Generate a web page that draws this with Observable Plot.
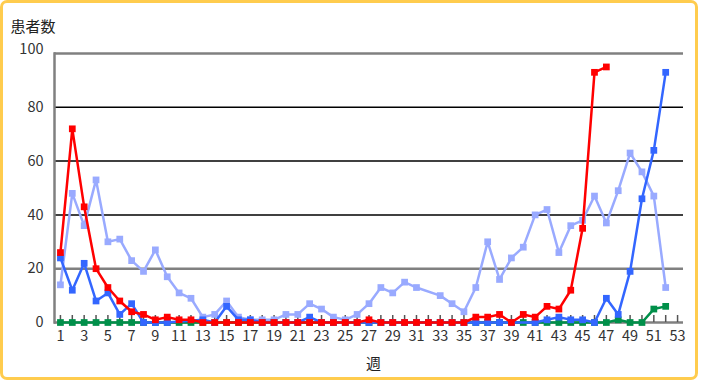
<!DOCTYPE html>
<html><head><meta charset="utf-8">
<script src="https://cdn.jsdelivr.net/npm/d3@7"></script>
<script src="https://cdn.jsdelivr.net/npm/@observablehq/plot@0.6"></script>
<style>
html,body{margin:0;padding:0;background:#fff;}
#wrap{position:relative;width:701px;height:381px;overflow:hidden;background:#fff;}
#wrap svg{display:block;position:absolute;left:0;top:0;}
#border{position:absolute;left:0;top:0;width:698px;height:380px;box-sizing:border-box;border:3px solid #FFCC4E;border-radius:7px;pointer-events:none;}
</style></head><body>
<div id="wrap"><div id="border"></div></div>
<script>
const weeks = [1,2,3,4,5,6,7,8,9,10,11,12,13,14,15,16,17,18,19,20,21,22,23,24,25,26,27,28,29,30,31,32,33,34,35,36,37,38,39,40,41,42,43,44,45,46,47,48,49,50,51,52,53];
const weekLabels = [1,3,5,7,9,11,13,15,17,19,21,23,25,27,29,31,33,35,37,39,41,43,45,47,49,51,53];
const yLabels = [0,20,40,60,80];
const yTopLabel = [100];
const grayGrid = [20,100];
const blackGrid = [40,60,80];

// series values by week (index 0 = week 1); null = no point
const redSeries = [26,72,43,20,13,8,4,3,1,2,1,1,0,0,0,0,0,0,0,0,0,0,0,0,0,0,1,0,0,0,0,0,0,0,0,2,2,3,0,3,2,6,5,12,35,93,95];
const blueSeries = [24,12,22,8,11,3,7,0,0,0,null,null,1,0,6,1,1,0,0,0,0,2,0,0,0,0,0,0,0,0,0,0,0,0,0,0,0,0,0,null,0,1,2,1,1,0,9,3,19,46,64,93];
const lightSeries = [14,48,36,53,30,31,23,19,27,17,11,9,2,3,8,2,1,1,1,3,3,7,5,2,1,3,7,13,11,15,13,null,10,7,4,13,30,16,24,28,40,42,26,36,38,47,37,49,63,56,47,13];
const greenSeries = [0,0,0,0,0,0,0,0,0,0,0,0,0,0,0,0,0,0,0,0,0,0,0,0,0,0,0,0,0,0,0,0,0,0,0,0,0,0,0,0,0,0,0,0,0,0,0,1,0,0,5,6];

const toRows = (arr) => arr.map((v, i) => ({week: weeks[i], v})).filter(d => d.v != null);

const series = [
  {rows: toRows(lightSeries), color: "#99aaff"},
  {rows: toRows(greenSeries), color: "#00904a"},
  {rows: toRows(blueSeries), color: "#3366ff"},
  {rows: toRows(redSeries), color: "#ff0000"}
];

const font = "'Noto Sans CJK JP', sans-serif";

const seriesMarks = series.flatMap(s => [
  Plot.line(s.rows, {x: "week", y: "v", stroke: s.color, strokeWidth: 2.5}),
  Plot.dot(s.rows, {x: "week", y: "v", symbol: "square", r: 3.8, fill: s.color, stroke: "none"})
]);

const chart = Plot.plot({
  width: 701, height: 381,
  marginLeft: 54, marginRight: 18, marginTop: 53, marginBottom: 59,
  style: {fontFamily: font, fontSize: "14px", color: "#333", background: "transparent"},
  x: {type: "point", domain: weeks, padding: 0.5},
  y: {domain: [0, 100]},
  marks: [
    Plot.ruleY(blackGrid, {stroke: "#000", strokeWidth: 1.5}),
    Plot.ruleY(grayGrid, {stroke: "#808080", strokeWidth: 2.5}),
    Plot.ruleY([0], {stroke: "#808080", strokeWidth: 2.5}),
    Plot.frame({anchor: "left", stroke: "#808080", strokeWidth: 2.5}),
    Plot.tickX(weeks, {x: d => d, insetTop: 262, stroke: "#555", strokeWidth: 1.5}),
    Plot.axisX(weekLabels, {tickSize: 0, tickPadding: 8, fontSize: 14.5, label: null, fill: "#333"}),
    Plot.axisY(yLabels, {tickSize: 0, tickPadding: 11, fontSize: 14.5, label: null, fill: "#333"}),
    Plot.axisY(yTopLabel, {tickSize: 0, tickPadding: 11, dy: -4, fontSize: 14.5, label: null, fill: "#333"}),
    ...seriesMarks,
    Plot.text(["週"], {text: d => d, frameAnchor: "bottom", lineAnchor: "middle", dx: 4.5, dy: 41.5, fontSize: 15, fill: "#222"}),
    Plot.text(["患者数"], {text: d => d, frameAnchor: "top-left", lineAnchor: "middle", textAnchor: "start", dx: -44, dy: -26, fontSize: 15, fill: "#222"})
  ]
});
document.getElementById("wrap").insertBefore(chart, document.getElementById("border"));
</script>
</body></html>
